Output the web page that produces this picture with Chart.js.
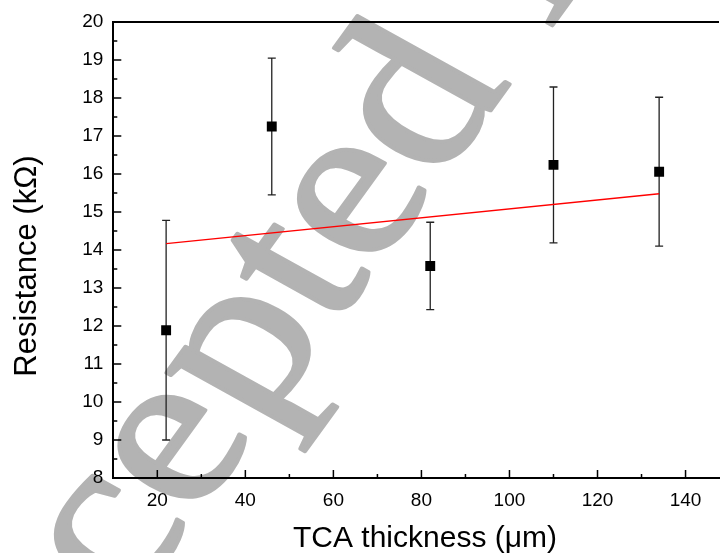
<!DOCTYPE html>
<html>
<head>
<meta charset="utf-8">
<script src="https://cdn.jsdelivr.net/npm/chart.js@4.4.1/dist/chart.umd.min.js"></script>
<style>
  html, body { margin: 0; padding: 0; background: #fff; }
  #wrap { width: 726px; height: 553px; position: relative; }
</style>
</head>
<body>
<div id="wrap"><canvas id="chart"></canvas></div>
<script>
// values
const thickness = [22, 46, 82, 110, 134];
const resistance = [11.89, 17.25, 13.58, 16.24, 16.06];
const resistanceErr = [2.89, 1.80, 1.15, 2.05, 1.96];
const fitX = [22, 134];
const fitY = [14.17, 15.48];

const xTicks = [20, 40, 60, 80, 100, 120, 140];
const xMinor = [30, 50, 70, 90, 110, 130];
const yTicks = [8, 9, 10, 11, 12, 13, 14, 15, 16, 17, 18, 19, 20];
const yMinor = [8.5, 9.5, 10.5, 11.5, 12.5, 13.5, 14.5, 15.5, 16.5, 17.5, 18.5, 19.5];

const FONT = '"Liberation Sans", Arial, sans-serif';

// grey "Accepted Manuscript" stamp behind everything
const watermark = {
  id: 'watermark',
  beforeDraw(chart) {
    const ctx = chart.ctx;
    ctx.save();
    ctx.font = '250px "Liberation Serif", serif';
    const w = ctx.measureText('Accepte').width;
    ctx.setTransform(0.588, -0.809, 0.831, 0.461, 438, 183);
    ctx.fillStyle = '#b3b3b3';
    ctx.strokeStyle = '#b3b3b3';
    ctx.lineWidth = 4;
    ctx.lineJoin = 'round';
    ctx.fillText('Accepted Manuscript', -w, 0);
    ctx.strokeText('Accepted Manuscript', -w, 0);
    ctx.restore();
  }
};

const errorBars = {
  id: 'errorBars',
  beforeDatasetsDraw(chart) {
    const ctx = chart.ctx;
    const xs = chart.scales.x, ys = chart.scales.y;
    ctx.save();
    ctx.strokeStyle = '#222';
    ctx.lineWidth = 1.3;
    thickness.forEach((t, i) => {
      const px = xs.getPixelForValue(t);
      const top = ys.getPixelForValue(resistance[i] + resistanceErr[i]);
      const bot = ys.getPixelForValue(resistance[i] - resistanceErr[i]);
      ctx.beginPath();
      ctx.moveTo(px, top); ctx.lineTo(px, bot);
      ctx.moveTo(px - 4, top); ctx.lineTo(px + 4, top);
      ctx.moveTo(px - 4, bot); ctx.lineTo(px + 4, bot);
      ctx.stroke();
    });
    ctx.restore();
  }
};

// inward tick marks, top frame line, axis titles
const frame = {
  id: 'frame',
  afterDraw(chart) {
    const ctx = chart.ctx;
    const a = chart.chartArea;
    const xs = chart.scales.x, ys = chart.scales.y;
    ctx.save();
    ctx.strokeStyle = '#000';
    ctx.lineWidth = 1.5;
    ctx.beginPath();
    xTicks.forEach(v => { const p = xs.getPixelForValue(v); ctx.moveTo(p, a.bottom); ctx.lineTo(p, a.bottom - 8); });
    xMinor.forEach(v => { const p = xs.getPixelForValue(v); ctx.moveTo(p, a.bottom); ctx.lineTo(p, a.bottom - 4); });
    yTicks.forEach(v => { const p = ys.getPixelForValue(v); ctx.moveTo(a.left, p); ctx.lineTo(a.left + 8, p); });
    yMinor.forEach(v => { const p = ys.getPixelForValue(v); ctx.moveTo(a.left, p); ctx.lineTo(a.left + 4, p); });
    ctx.stroke();
    ctx.lineWidth = 2;
    ctx.beginPath();
    ctx.moveTo(a.left, a.top); ctx.lineTo(a.right, a.top);
    ctx.stroke();

    ctx.fillStyle = '#000';
    ctx.textAlign = 'center';
    ctx.textBaseline = 'alphabetic';
    ctx.font = '30px ' + FONT;
    ctx.fillText('TCA thickness (\u03bcm)', 425, 547);
    ctx.font = '31px ' + FONT;
    ctx.translate(36, 266);
    ctx.rotate(-Math.PI / 2);
    ctx.fillText('Resistance (k\u03a9)', 0, 0);
    ctx.restore();
  }
};

const ctx = document.getElementById('chart').getContext('2d');
new Chart(ctx, {
  data: {
    datasets: [{
      type: 'scatter',
      data: thickness.map((t, i) => ({ x: t, y: resistance[i] })),
      pointStyle: 'rect',
      pointRadius: 7,
      pointBorderWidth: 0,
      backgroundColor: '#000',
      borderColor: '#000',
      order: 1
    }, {
      type: 'line',
      data: fitX.map((t, i) => ({ x: t, y: fitY[i] })),
      borderColor: '#ff0000',
      borderWidth: 1.3,
      pointRadius: 0,
      fill: false,
      order: 2
    }]
  },
  options: {
    responsive: true,
    maintainAspectRatio: false,
    animation: false,
    layout: { padding: { top: 22, right: 0, left: 0, bottom: 0 } },
    plugins: { legend: { display: false }, tooltip: { enabled: false } },
    scales: {
      x: {
        type: 'linear',
        min: 10,
        max: 147.6,
        afterFit(s) { s.height = 75; },
        afterBuildTicks(s) { s.ticks = xTicks.map(v => ({ value: v })); },
        grid: { display: false, drawTicks: false },
        border: { display: true, color: '#000', width: 2 },
        ticks: {
          autoSkip: false, maxRotation: 0, padding: 11,
          color: '#000', font: { family: FONT, size: 19 }
        }
      },
      y: {
        type: 'linear',
        min: 8,
        max: 20,
        afterFit(s) { s.width = 113.3; },
        afterBuildTicks(s) { s.ticks = yTicks.map(v => ({ value: v })); },
        grid: { display: false, drawTicks: false },
        border: { display: true, color: '#000', width: 2 },
        ticks: {
          autoSkip: false, padding: 10,
          color: '#000', font: { family: FONT, size: 19 }
        }
      }
    }
  },
  plugins: [watermark, errorBars, frame]
});
</script>
</body>
</html>
